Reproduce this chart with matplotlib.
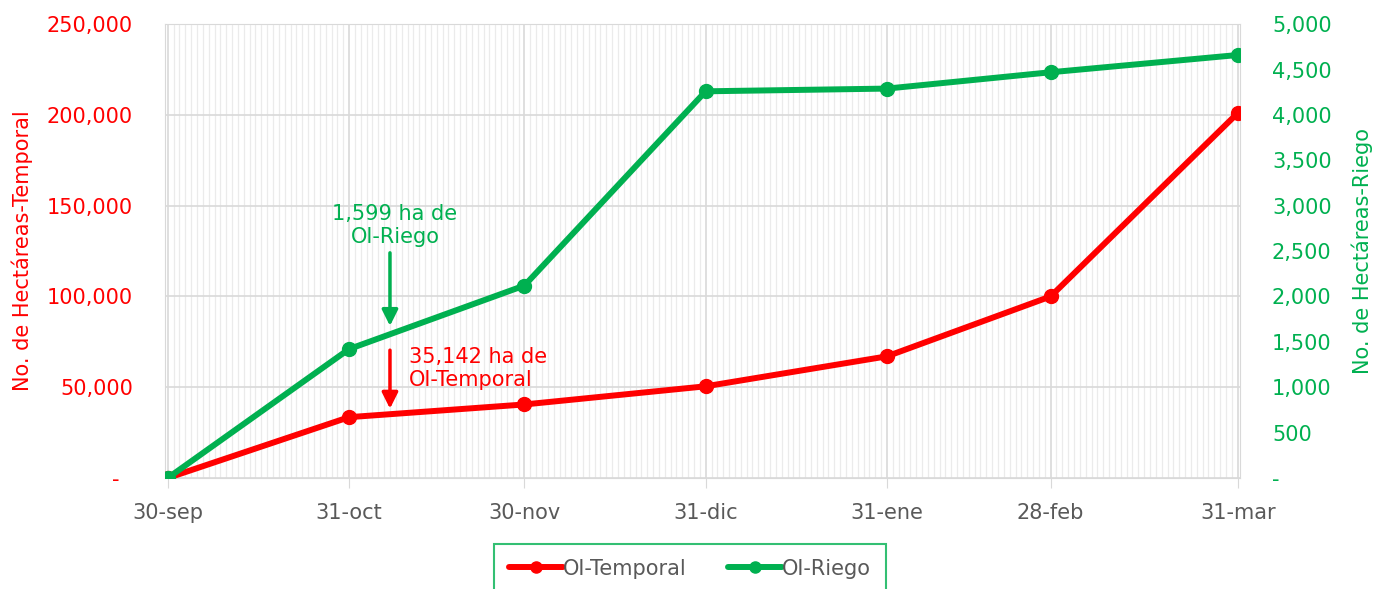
import numpy as np
import matplotlib
matplotlib.use("Agg")
from matplotlib import pyplot as plt
import matplotlib.dates as mdates
from matplotlib.ticker import FixedLocator, FuncFormatter
import datetime as dt

# Data
fechas = ["2019-09-30", "2019-10-31", "2019-11-30", "2019-12-31",
          "2020-01-31", "2020-02-28", "2020-03-31"]
etiquetas = ["30-sep", "31-oct", "30-nov", "31-dic", "31-ene", "28-feb", "31-mar"]
temporal = [0, 33500, 40500, 50500, 67000, 100000, 201000]
riego = [0, 1420, 2120, 4260, 4290, 4470, 4660]

nota_fecha = "2019-11-07"
nota_temporal = 35142
nota_riego = 1599

RED = "#FF0000"
GREEN = "#00B050"
GRAY = "#595959"
FS = 15

plt.rcParams['font.family'] = ['DejaVu Sans']

x = [dt.datetime.strptime(f, "%Y-%m-%d") for f in fechas]
xn = mdates.date2num(x)

fig = plt.figure(figsize=(13.74, 5.89), dpi=100)
ax1 = fig.add_axes([0.120, 0.1885, 0.7825, 0.7705])
ax2 = ax1.twinx()

# grid: daily minor lines, major lines at the labelled dates
ax1.xaxis.set_major_locator(FixedLocator(xn))
ax1.xaxis.set_minor_locator(mdates.DayLocator())
ax1.set_xticklabels(etiquetas)
ax1.grid(True, which='major', axis='both', color='#D9D9D9', lw=1.2, zorder=0)
ax1.grid(True, which='minor', axis='x', color='#EBEBEB', lw=0.9, zorder=0)
ax1.set_axisbelow(True)

ax1.plot(xn, temporal, color=RED, lw=4.3, marker='o', ms=10, zorder=3,
         label='OI-Temporal', solid_capstyle='round')
ax2.plot(xn, riego, color=GREEN, lw=4.3, marker='o', ms=10, zorder=3,
         label='OI-Riego', solid_capstyle='round')

ax1.set_xlim(xn[0] - 0.5, xn[-1] + 0.4)
ax1.set_ylim(0, 250000)
ax2.set_ylim(0, 5000)
ax1.set_yticks(np.arange(0, 250001, 50000))
ax2.set_yticks(np.arange(0, 5001, 500))

ax1.yaxis.set_major_formatter(FuncFormatter(lambda v, p: "-  " if v == 0 else f"{v:,.0f}"))
ax2.yaxis.set_major_formatter(FuncFormatter(lambda v, p: "-" if v == 0 else f"{v:,.0f}"))

for sp in ax1.spines.values():
    sp.set_color('#D9D9D9')
for sp in ax2.spines.values():
    sp.set_visible(False)

ax1.tick_params(axis='x', which='major', length=7, color='#D9D9D9', labelsize=FS,
                labelcolor=GRAY, pad=11)
ax1.tick_params(axis='x', which='minor', length=0)
ax1.tick_params(axis='y', length=0, labelsize=FS, labelcolor=RED, pad=23)
ax2.tick_params(axis='y', length=0, labelsize=FS, labelcolor=GREEN, pad=23)

ax1.set_ylabel("No. de Hectáreas-Temporal", color=RED, fontsize=FS)
ax2.set_ylabel("No. de Hectáreas-Riego", color=GREEN, fontsize=FS)
ax1.yaxis.set_label_coords(-0.123, 0.5)
ax2.yaxis.set_label_coords(1.104, 0.5)

# annotations
xa = mdates.date2num(dt.datetime.strptime(nota_fecha, "%Y-%m-%d"))
ax2.annotate('', xy=(xa, nota_riego), xytext=(0, 80), textcoords='offset pixels',
             arrowprops=dict(arrowstyle='-|>', color=GREEN, lw=2.5, mutation_scale=24,
                             shrinkA=0, shrinkB=5), zorder=5)
ax2.annotate("1,599 ha de\nOI-Riego", xy=(xa, nota_riego), xytext=(5, 107),
             textcoords='offset pixels', ha='center', va='center', color=GREEN,
             fontsize=FS, linespacing=1.2)
ax1.annotate('', xy=(xa, nota_temporal), xytext=(0, 64), textcoords='offset pixels',
             arrowprops=dict(arrowstyle='-|>', color=RED, lw=2.5, mutation_scale=24,
                             shrinkA=0, shrinkB=4), zorder=5)
ax1.annotate("35,142 ha de\nOI-Temporal", xy=(xa, nota_temporal), xytext=(19, 46),
             textcoords='offset pixels', ha='left', va='center', color=RED,
             fontsize=FS, linespacing=1.2)

h1, l1 = ax1.get_legend_handles_labels()
h2, l2 = ax2.get_legend_handles_labels()
leg = fig.legend(h1 + h2, l1 + l2, loc='upper center', bbox_to_anchor=(690 / 1374, 1 - 544 / 589),
                 ncol=2, fontsize=FS, frameon=True, fancybox=False, borderpad=0.7,
                 handlelength=2.6, handletextpad=0.0, columnspacing=2.0, borderaxespad=0)
leg.get_frame().set_edgecolor(GREEN)
leg.get_frame().set_linewidth(1.5)
for t in leg.get_texts():
    t.set_color(GRAY)
for h in leg.legend_handles:
    h.set_markersize(8)

fig.savefig("out.png", dpi=100)
